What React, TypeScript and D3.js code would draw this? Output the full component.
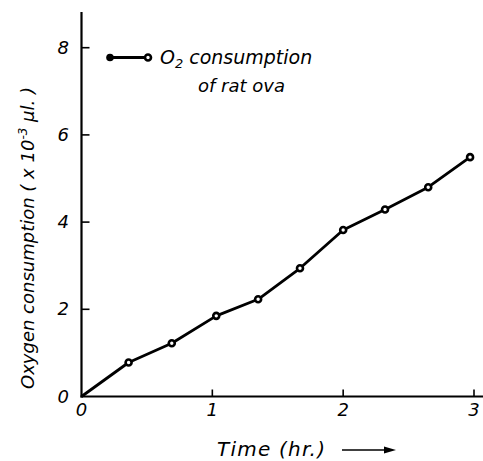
import React, {useRef, useEffect} from 'react'
import * as d3 from 'd3'

// time (hr.) and O2 consumption (x 10^-3 µl.)
const times = [0, 0.36, 0.69, 1.03, 1.35, 1.67, 2.0, 2.32, 2.65, 2.97]
const oxygen = [0, 0.78, 1.22, 1.85, 2.23, 2.94, 3.82, 4.29, 4.8, 5.49]
const xTicks = [0, 1, 2, 3]
const yTicks = [0, 2, 4, 6, 8]
const legendLines = ['consumption', 'of rat ova']

const W = 483
const H = 461
const FONT = '"DejaVu Sans", sans-serif'

export default function App() {
  const svgRef = useRef(null)

  useEffect(() => {
    const svg = d3.select(svgRef.current)
    svg.selectAll('*').remove()

    const x = d3.scaleLinear().domain([0, 3]).range([81.5, 474])
    const y = d3.scaleLinear().domain([0, 8]).range([396.5, 47.7])

    const g = svg.append('g')

    // axes
    g.append('line')
      .attr('x1', x(0)).attr('x2', x(0))
      .attr('y1', y(0) + 1).attr('y2', 12)
      .attr('stroke', '#000').attr('stroke-width', 2.2)
    g.append('line')
      .attr('x1', x(0) - 1).attr('x2', W)
      .attr('y1', y(0)).attr('y2', y(0))
      .attr('stroke', '#000').attr('stroke-width', 2.2)

    // y ticks (inward)
    g.selectAll('.ytick')
      .data(yTicks.filter(d => d > 0))
      .enter()
      .append('line')
      .attr('x1', x(0)).attr('x2', x(0) + 8)
      .attr('y1', d => y(d)).attr('y2', d => y(d))
      .attr('stroke', '#000').attr('stroke-width', 1.6)

    g.selectAll('.ylab')
      .data(yTicks)
      .enter()
      .append('text')
      .attr('x', 69)
      .attr('y', d => y(d) + 6)
      .attr('text-anchor', 'end')
      .attr('font-family', FONT)
      .attr('font-style', 'italic')
      .attr('font-size', 18)
      .text(d => d)

    // x ticks (inward)
    g.selectAll('.xtick')
      .data(xTicks.filter(d => d > 0))
      .enter()
      .append('line')
      .attr('x1', d => x(d)).attr('x2', d => x(d))
      .attr('y1', y(0)).attr('y2', y(0) - 7)
      .attr('stroke', '#000').attr('stroke-width', 1.6)

    g.selectAll('.xlab')
      .data(xTicks)
      .enter()
      .append('text')
      .attr('x', d => x(d))
      .attr('y', y(0) + 19)
      .attr('text-anchor', 'middle')
      .attr('font-family', FONT)
      .attr('font-style', 'italic')
      .attr('font-size', 18)
      .text(d => d)

    // axis titles
    g.append('text')
      .attr('x', 217)
      .attr('y', 456)
      .attr('font-family', FONT)
      .attr('font-style', 'italic')
      .attr('font-size', 20)
      .attr('textLength', 108)
      .text('Time (hr.)')
    g.append('line')
      .attr('x1', 342).attr('x2', 390)
      .attr('y1', 450).attr('y2', 450)
      .attr('stroke', '#000').attr('stroke-width', 1.5)
    g.append('path')
      .attr('d', 'M396,450 L384,446.5 L384,453.5 Z')
      .attr('fill', '#000')

    const yTitle = g.append('text')
      .attr('transform', 'translate(34,238) rotate(-90)')
      .attr('text-anchor', 'middle')
      .attr('font-family', FONT)
      .attr('font-style', 'italic')
      .attr('font-size', 18)
    yTitle.append('tspan').text('Oxygen consumption ( x 10')
    yTitle.append('tspan').attr('dy', -7).attr('font-size', 12).text('-3')
    yTitle.append('tspan').attr('dy', 7).text(' \u00b5l. )')

    // data line
    const line = d3.line()
      .x((d, i) => x(times[i]))
      .y(d => y(d))
    g.append('path')
      .datum(oxygen)
      .attr('d', line)
      .attr('fill', 'none')
      .attr('stroke', '#000')
      .attr('stroke-width', 2.8)
      .attr('stroke-linejoin', 'round')

    g.selectAll('.pt')
      .data(oxygen.slice(1))
      .enter()
      .append('circle')
      .attr('cx', (d, i) => x(times[i + 1]))
      .attr('cy', d => y(d))
      .attr('r', 3)
      .attr('fill', '#fff')
      .attr('stroke', '#000')
      .attr('stroke-width', 2.6)

    // legend
    const leg = g.append('g')
    leg.append('line')
      .attr('x1', 110).attr('x2', 148)
      .attr('y1', 57.5).attr('y2', 57.5)
      .attr('stroke', '#000').attr('stroke-width', 2.8)
    leg.append('circle')
      .attr('cx', 110).attr('cy', 57.5).attr('r', 3.8)
      .attr('fill', '#000')
    leg.append('circle')
      .attr('cx', 148).attr('cy', 57.5).attr('r', 3)
      .attr('fill', '#fff').attr('stroke', '#000').attr('stroke-width', 2.6)

    const t1 = leg.append('text')
      .attr('x', 160).attr('y', 64)
      .attr('font-family', FONT)
      .attr('font-style', 'italic')
      .attr('font-size', 19)
    t1.append('tspan').text('O')
    t1.append('tspan').attr('dy', 4).attr('font-size', 13).text('2')
    t1.append('tspan').attr('dy', -4).attr('dx', 6).text(legendLines[0])
    leg.append('text')
      .attr('x', 198).attr('y', 92)
      .attr('font-family', FONT)
      .attr('font-style', 'italic')
      .attr('font-size', 18)
      .text(legendLines[1])
  }, [])

  return (
    <svg
      ref={svgRef}
      width={W}
      height={H}
      style={{position: 'absolute', left: 0, top: 0, background: '#fff'}}
    />
  )
}
